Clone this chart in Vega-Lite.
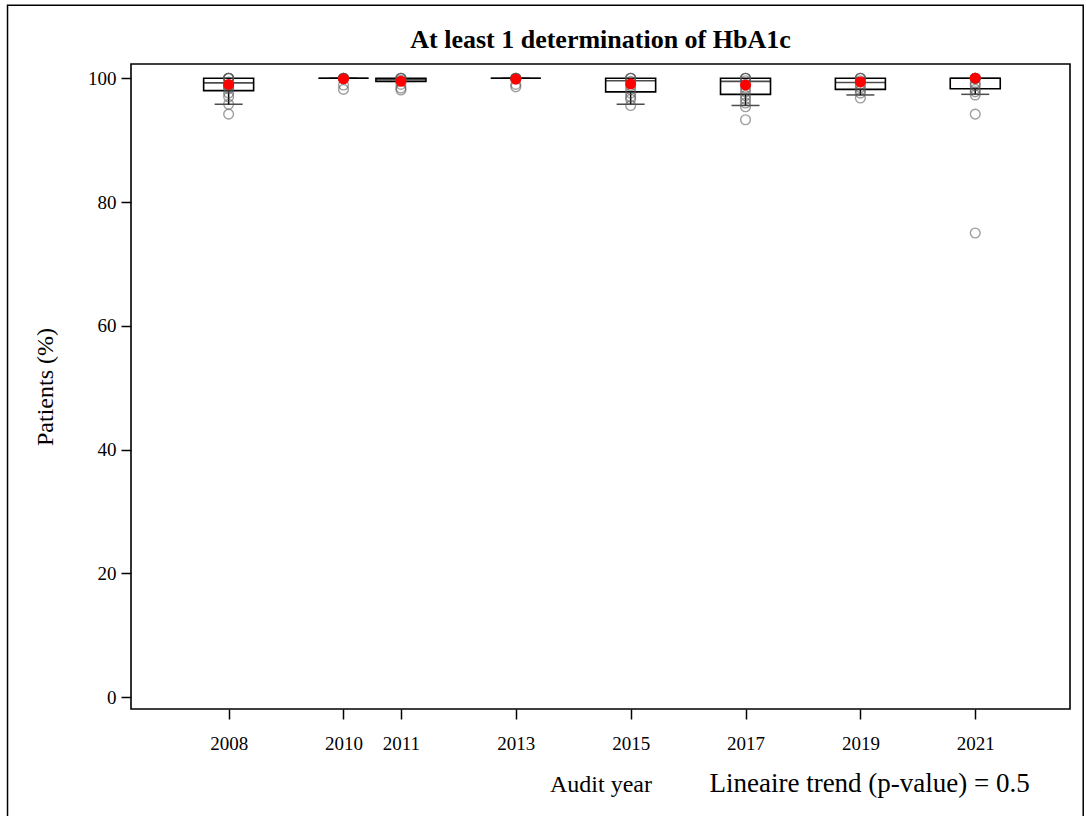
{
  "$schema": "https://vega.github.io/schema/vega-lite/v6.json",
  "width": 939,
  "height": 645,
  "autosize": "none",
  "padding": {"left": 131, "top": 64, "right": 16, "bottom": 107},
  "background": "white",
  "config": {
    "font": "Liberation Serif",
    "view": {"stroke": "#000", "strokeWidth": 1.6},
    "axis": {"domain": false, "grid": false, "tickColor": "#000", "tickWidth": 1.5, "tickSize": 10, "labelColor": "#000", "titleColor": "#000", "labelFont": "Liberation Serif", "titleFont": "Liberation Serif", "labelFontSize": 19, "titleFontSize": 24, "titleFontWeight": "normal"}
  },
  "title": {"text": "At least 1 determination of HbA1c", "font": "Liberation Serif", "fontSize": 26, "fontWeight": "bold", "color": "#000", "offset": 12, "dy": 61},
  "datasets": {
    "boxes": [
      {"year": 2008, "q1": 98.0, "median": 99.25, "q3": 100, "lower": 95.8, "upper": 100, "mean": 99.0},
      {"year": 2010, "q1": 100, "median": 100, "q3": 100, "lower": 100, "upper": 100, "mean": 99.9},
      {"year": 2011, "q1": 99.5, "median": 99.8, "q3": 100, "lower": 99.5, "upper": 100, "mean": 99.5},
      {"year": 2013, "q1": 100, "median": 100, "q3": 100, "lower": 100, "upper": 100, "mean": 99.85},
      {"year": 2015, "q1": 97.8, "median": 99.6, "q3": 100, "lower": 95.8, "upper": 100, "mean": 99.1},
      {"year": 2017, "q1": 97.4, "median": 99.5, "q3": 100, "lower": 95.6, "upper": 100, "mean": 98.9},
      {"year": 2019, "q1": 98.2, "median": 99.3, "q3": 100, "lower": 97.3, "upper": 100, "mean": 99.4},
      {"year": 2021, "q1": 98.3, "median": 100, "q3": 100, "lower": 97.4, "upper": 100, "mean": 100}
    ],
    "points": [
      {"year": 2008, "value": 100}, {"year": 2008, "value": 100}, {"year": 2008, "value": 100}, {"year": 2008, "value": 100},
      {"year": 2008, "value": 99.4}, {"year": 2008, "value": 98.8}, {"year": 2008, "value": 98.6}, {"year": 2008, "value": 98.3},
      {"year": 2008, "value": 97.6}, {"year": 2008, "value": 97.0}, {"year": 2008, "value": 95.8}, {"year": 2008, "value": 94.2},
      {"year": 2010, "value": 100}, {"year": 2010, "value": 100}, {"year": 2010, "value": 100}, {"year": 2010, "value": 100},
      {"year": 2010, "value": 98.9}, {"year": 2010, "value": 98.2},
      {"year": 2011, "value": 100}, {"year": 2011, "value": 100}, {"year": 2011, "value": 100}, {"year": 2011, "value": 99.7},
      {"year": 2011, "value": 99.0}, {"year": 2011, "value": 98.4}, {"year": 2011, "value": 98.1},
      {"year": 2013, "value": 100}, {"year": 2013, "value": 100}, {"year": 2013, "value": 100}, {"year": 2013, "value": 100},
      {"year": 2013, "value": 99.0}, {"year": 2013, "value": 98.6},
      {"year": 2015, "value": 100}, {"year": 2015, "value": 100}, {"year": 2015, "value": 100}, {"year": 2015, "value": 99.5},
      {"year": 2015, "value": 98.8}, {"year": 2015, "value": 98.2}, {"year": 2015, "value": 97.6}, {"year": 2015, "value": 97.0},
      {"year": 2015, "value": 96.6}, {"year": 2015, "value": 95.6},
      {"year": 2017, "value": 100}, {"year": 2017, "value": 100}, {"year": 2017, "value": 100}, {"year": 2017, "value": 99.6},
      {"year": 2017, "value": 99.0}, {"year": 2017, "value": 98.4}, {"year": 2017, "value": 97.8}, {"year": 2017, "value": 97.2},
      {"year": 2017, "value": 96.6}, {"year": 2017, "value": 96.0}, {"year": 2017, "value": 95.4}, {"year": 2017, "value": 93.3},
      {"year": 2019, "value": 100}, {"year": 2019, "value": 100}, {"year": 2019, "value": 100}, {"year": 2019, "value": 99.6},
      {"year": 2019, "value": 99.0}, {"year": 2019, "value": 98.5}, {"year": 2019, "value": 98.0}, {"year": 2019, "value": 97.6},
      {"year": 2019, "value": 96.8},
      {"year": 2021, "value": 100}, {"year": 2021, "value": 100}, {"year": 2021, "value": 100}, {"year": 2021, "value": 100},
      {"year": 2021, "value": 99.2}, {"year": 2021, "value": 98.8}, {"year": 2021, "value": 98.2}, {"year": 2021, "value": 97.8},
      {"year": 2021, "value": 97.3}, {"year": 2021, "value": 94.2}, {"year": 2021, "value": 75.0}
    ],
    "annot": [
      {"label": "Lineaire trend (p-value) = 0.5", "x": 2021.95, "y": -14.0}
    ],
    "frame": [
      {"x": 2004.15, "x2": 2022.88, "y": 111.8, "y2": -20.5}
    ]
  },
  "layer": [
    {
      "data": {"name": "frame"},
      "mark": {"type": "rect", "fill": null, "stroke": "#000", "strokeWidth": 1.5, "clip": false},
      "encoding": {
        "x": {"field": "x", "type": "quantitative", "scale": {"domain": [2006.3, 2022.65], "nice": false, "zero": false, "padding": 0}},
        "x2": {"field": "x2"},
        "y": {"field": "y", "type": "quantitative", "scale": {"domain": [-1.9, 102.3], "nice": false, "zero": false, "padding": 0}},
        "y2": {"field": "y2"}
      }
    },
    {
      "data": {"name": "boxes"},
      "mark": {"type": "rule", "stroke": "#000", "strokeWidth": 1.5},
      "encoding": {
        "x": {"field": "year", "type": "quantitative"},
        "y": {"field": "lower", "type": "quantitative"},
        "y2": {"field": "q1"}
      }
    },
    {
      "data": {"name": "boxes"},
      "mark": {"type": "tick", "orient": "horizontal", "size": 28, "thickness": 1.5, "color": "#000"},
      "encoding": {
        "x": {"field": "year", "type": "quantitative"},
        "y": {"field": "lower", "type": "quantitative"}
      }
    },
    {
      "data": {"name": "boxes"},
      "mark": {"type": "bar", "size": 50, "fill": "white", "stroke": "#000", "strokeWidth": 1.6},
      "encoding": {
        "x": {"field": "year", "type": "quantitative"},
        "y": {"field": "q1", "type": "quantitative"},
        "y2": {"field": "q3"}
      }
    },
    {
      "data": {"name": "boxes"},
      "mark": {"type": "tick", "orient": "horizontal", "size": 50, "thickness": 1.6, "color": "#000"},
      "encoding": {
        "x": {"field": "year", "type": "quantitative"},
        "y": {"field": "median", "type": "quantitative"}
      }
    },
    {
      "data": {"name": "points"},
      "mark": {"type": "point", "shape": "circle", "filled": false, "size": 95, "stroke": "#555", "strokeWidth": 1.4, "strokeOpacity": 0.8},
      "encoding": {
        "x": {"field": "year", "type": "quantitative"},
        "y": {"field": "value", "type": "quantitative"}
      }
    },
    {
      "data": {"name": "boxes"},
      "mark": {"type": "circle", "size": 120, "fill": "#ff0000", "opacity": 1},
      "encoding": {
        "x": {"field": "year", "type": "quantitative",
          "axis": {"values": [2008, 2010, 2011, 2013, 2015, 2017, 2019, 2021], "format": "d", "labelPadding": 15, "title": "Audit year", "titlePadding": 19}},
        "y": {"field": "mean", "type": "quantitative",
          "axis": {"values": [0, 20, 40, 60, 80, 100], "labelPadding": 5, "title": "Patients (%)", "titlePadding": 30}}
      }
    },
    {
      "data": {"name": "annot"},
      "mark": {"type": "text", "align": "right", "baseline": "middle", "font": "Liberation Serif", "fontSize": 27, "color": "#000", "clip": false},
      "encoding": {
        "x": {"field": "x", "type": "quantitative"},
        "y": {"field": "y", "type": "quantitative"},
        "text": {"field": "label"}
      }
    }
  ]
}
